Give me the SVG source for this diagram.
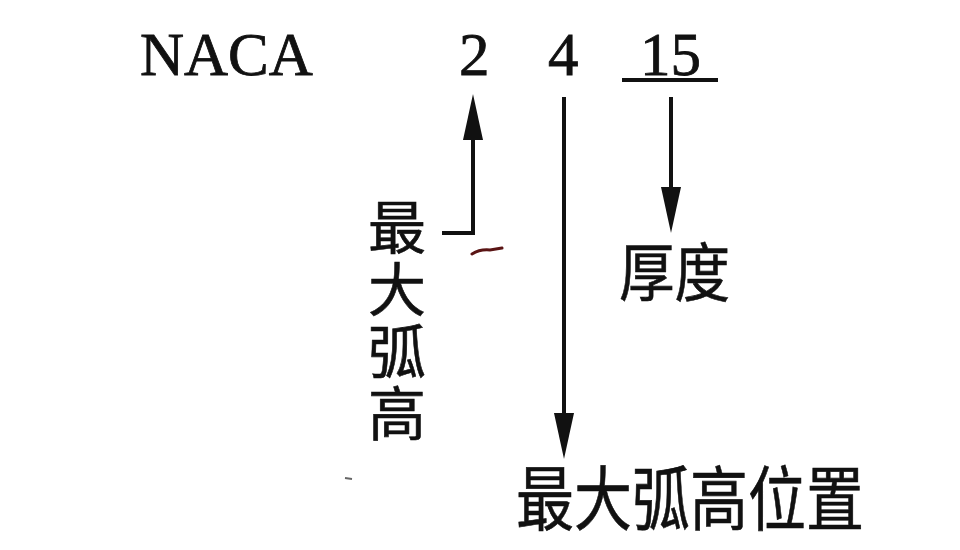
<svg xmlns="http://www.w3.org/2000/svg" width="960" height="550" viewBox="0 0 960 550">
<style>
.lat{font-family:"Liberation Serif","Times New Roman",serif;font-size:61px;fill:#111;stroke:#111;stroke-width:0.8}
.cjk{font-family:"Noto Sans CJK SC","Noto Sans CJK TC",sans-serif;fill:#111;stroke:#111;stroke-width:0.6}
.ln{stroke:#111;stroke-width:4;fill:none}
</style>
<defs>
<marker id="ah" markerUnits="userSpaceOnUse" markerWidth="46" markerHeight="20" viewBox="0 0 46 20" refX="0" refY="10" orient="auto">
<path d="M0,0 L46,10 L0,20 z" fill="#111"/>
</marker>
</defs>
<rect width="960" height="550" fill="#fff"/>
<g id="naca"><text class="lat" x="140" y="75">NACA</text></g>
<g id="d2"><text class="lat" x="459" y="75">2</text></g>
<g id="d4"><text class="lat" x="548" y="75">4</text></g>
<g id="d15"><text class="lat" x="640" y="75">15</text><line class="ln" x1="622" y1="80" x2="718" y2="80"/></g>
<g id="camber"><text class="cjk" font-size="58" x="397" y="198" writing-mode="vertical-rl" letter-spacing="4">最大弧高</text></g>
<g id="thickness"><text class="cjk" font-size="64" x="619" y="296" textLength="111" lengthAdjust="spacingAndGlyphs">厚度</text></g>
<g id="position"><text class="cjk" font-size="70" x="516" y="525" textLength="348" lengthAdjust="spacingAndGlyphs">最大弧高位置</text></g>
<g id="connectors">
<path class="ln" d="M442,233 H473 V140" marker-end="url(#ah)"/>
<line class="ln" x1="564" y1="97" x2="564" y2="413" stroke-width="3.5" marker-end="url(#ah)"/>
<line class="ln" x1="671" y1="97" x2="671" y2="187" stroke-width="3.5" marker-end="url(#ah)"/>
</g>
<path d="M472,254 Q480,249 490,250 Q496,249 502,248" stroke="#5a1414" stroke-width="3" fill="none" stroke-linecap="round"/>
<path d="M345,478 L352,479" stroke="#666" stroke-width="2"/>
</svg>
